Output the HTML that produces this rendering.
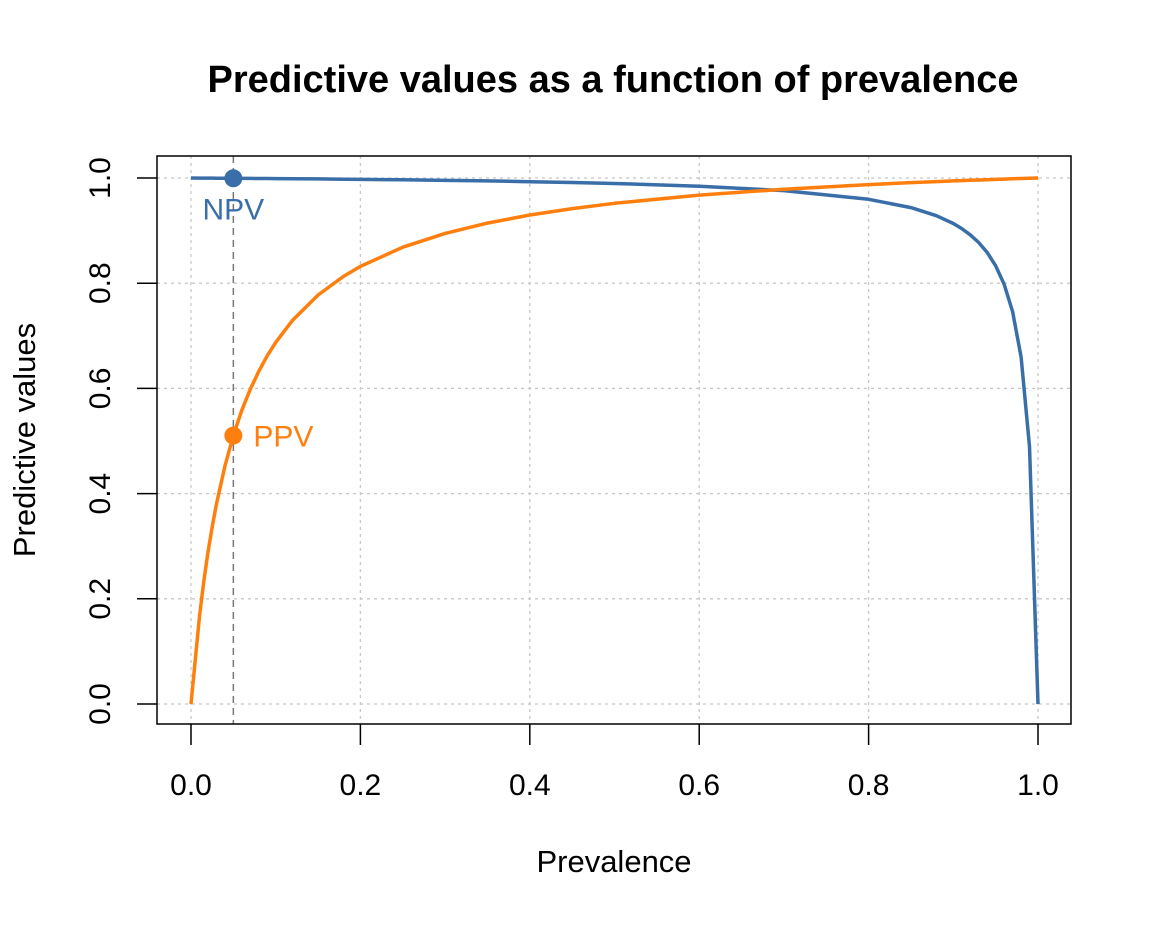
<!DOCTYPE html>
<html><head><meta charset="utf-8"><style>
body{margin:0;background:#fff}
svg text{font-family:"Liberation Sans",Arial,sans-serif}
</style></head><body>
<svg id="chart" width="1152" height="921" viewBox="0 0 1152 921" xmlns="http://www.w3.org/2000/svg">
<rect width="1152" height="921" fill="#fff"/>
<text x="613" y="92" text-anchor="middle" font-size="38" font-weight="bold">Predictive values as a function of prevalence</text>
<text x="614" y="872" text-anchor="middle" font-size="31">Prevalence</text>
<text transform="translate(35,440) rotate(-90)" text-anchor="middle" font-size="31">Predictive values</text>
<g id="grid"></g>
<g id="axes"></g>
<g id="series"></g>
<rect x="157" y="156" width="914" height="568" fill="none" stroke="#000" stroke-width="1.5"/>
</svg>
<script>
const prevalence = [0,0.01,0.015,0.02,0.025,0.03,0.04,0.05,0.06,0.07,0.08,0.09,0.1,0.12,0.15,0.18,0.2,0.25,0.3,0.35,0.4,0.45,0.5,0.6,0.7,0.8,0.85,0.88,0.9,0.91,0.92,0.93,0.94,0.95,0.96,0.97,0.98,0.99,1];
const ppvValues = [0,0.1667,0.2317,0.2878,0.3367,0.3798,0.4521,0.5103,0.5583,0.5984,0.6326,0.6620,0.6875,0.7297,0.7775,0.8130,0.8319,0.8684,0.8946,0.9142,0.9296,0.9419,0.9519,0.9674,0.9788,0.9875,0.9912,0.9932,0.9944,0.9950,0.9956,0.9962,0.9968,0.9973,0.9979,0.9984,0.9990,0.9995,1];
const npvValues = [1,0.9999,0.99985,0.9998,0.99973,0.9997,0.9996,0.9995,0.9993,0.9992,0.9991,0.9990,0.9988,0.9986,0.9982,0.9977,0.9974,0.9965,0.9955,0.9944,0.9930,0.9915,0.9896,0.9845,0.9760,0.9596,0.9437,0.9283,0.9135,0.9038,0.8920,0.8773,0.8584,0.8333,0.7983,0.7461,0.6597,0.4897,0];
const xTicks = [0,0.2,0.4,0.6,0.8,1.0];
const yTicks = [0,0.2,0.4,0.6,0.8,1.0];
const markerPrev = 0.05;
const markerPPV = 0.5103;
const markerNPV = 0.9995;

const NS="http://www.w3.org/2000/svg";
const xs=v=>191+v*(1038-191);
const ys=v=>704-v*(704-178);
function mk(tag,attrs,parent){const e=document.createElementNS(NS,tag);for(const k in attrs)e.setAttribute(k,attrs[k]);parent.appendChild(e);return e;}
const grid=document.getElementById('grid'),axes=document.getElementById('axes'),ser=document.getElementById('series');
xTicks.forEach(t=>{
  const l=mk('line',{x1:xs(t),x2:xs(t),y1:156,y2:724,stroke:'#c8c8c8','stroke-dasharray':'3,4','stroke-width':1.3},grid);
  
  
  const tk=mk('line',{x1:xs(t),x2:xs(t),y1:724,y2:745,stroke:'#000','stroke-width':1.5},axes);
  
  
  const tx=mk('text',{x:xs(t),y:795,'text-anchor':'middle','font-size':30},axes);
  tx.textContent=t.toFixed(1);
  
  
});
yTicks.forEach(t=>{
  const l=mk('line',{x1:157,x2:1071,y1:ys(t),y2:ys(t),stroke:'#c8c8c8','stroke-dasharray':'3,4','stroke-width':1.3},grid);
  
  
  const tk=mk('line',{x1:137,x2:157,y1:ys(t),y2:ys(t),stroke:'#000','stroke-width':1.5},axes);
  
  
  const tx=mk('text',{transform:`translate(110,${ys(t)}) rotate(-90)`,'text-anchor':'middle','font-size':30},axes);
  tx.textContent=t.toFixed(1);
  
  
});
const vline=mk('line',{x1:xs(markerPrev),x2:xs(markerPrev),y1:156,y2:724,stroke:'#777','stroke-dasharray':'7,5','stroke-width':1.5},ser);


function path(vals,color,name){
  const d=prevalence.map((p,i)=>(i?'L':'M')+xs(p).toFixed(1)+','+ys(vals[i]).toFixed(1)).join('');
  const e=mk('path',{d:d,fill:'none',stroke:color,'stroke-width':3.5,'stroke-linejoin':'round'},ser);
  
  
}
path(npvValues,'#3a6ea8','npv-line');
path(ppvValues,'#ff7f0e','ppv-line');
const c1=mk('circle',{cx:xs(markerPrev),cy:ys(markerNPV),r:9,fill:'#3a6ea8'},ser);


const c2=mk('circle',{cx:xs(markerPrev),cy:ys(markerPPV),r:9,fill:'#ff7f0e'},ser);


const t1=mk('text',{x:xs(markerPrev),y:ys(markerNPV)+41,'text-anchor':'middle','font-size':30,fill:'#3a6ea8'},ser);
t1.textContent='NPV';


const t2=mk('text',{x:xs(markerPrev)+20,y:ys(markerPPV)+11,'font-size':30,fill:'#ff7f0e'},ser);
t2.textContent='PPV';


</script>
</body></html>
